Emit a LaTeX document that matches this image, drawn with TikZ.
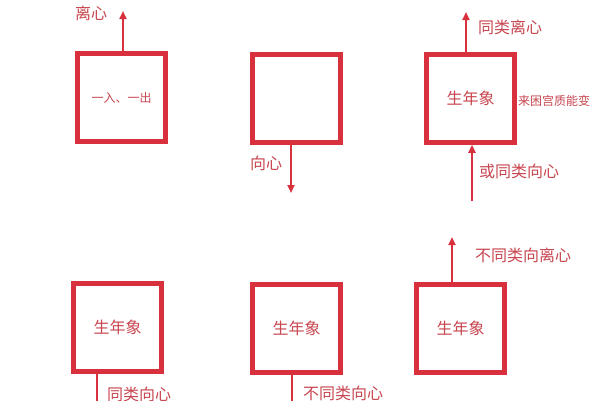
\documentclass[tikz,border=0pt]{standalone}
\usepackage{fontspec}
\setmainfont{Noto Sans CJK SC}
\usetikzlibrary{arrows.meta}
\definecolor{boxred}{HTML}{D8303C}
\definecolor{txtred}{HTML}{C84650}
\begin{document}
\begin{tikzpicture}[x=1pt,y=-1pt,
  sq/.style={draw=boxred,line width=4.5pt,minimum width=88pt,minimum height=88pt,inner sep=0pt,anchor=north west,text=txtred,font=\fontsize{16}{16}\selectfont},
  conn/.style={draw=boxred,line width=2.5pt,-{Triangle[length=8pt,width=7pt]}},
  plain/.style={draw=boxred,line width=2.5pt},
  lbl/.style={text=txtred,font=\fontsize{16}{16}\selectfont,inner sep=0pt,anchor=west},
  small/.style={text=txtred,font=\fontsize{12}{12}\selectfont,inner sep=0pt}]
\useasboundingbox (0,0) rectangle (600,400);
\fill[white] (0,0) rectangle (600,400);
% boxes (outer edges minus half line width)
\node[sq] (b1) at (75.25,51.25) {\fontsize{12}{12}\selectfont 一入、一出};
\node[sq] (b2) at (250.25,52.25) {};
\node[sq] (b3) at (424.25,52.25) {生年象};
\node[sq] (b4) at (71.25,281.25) {生年象};
\node[sq] (b5) at (250.25,282.25) {生年象};
\node[sq] (b6) at (414.25,282.25) {生年象};
% endpoints
\coordinate (e1) at (123,11);
\coordinate (e2) at (291,193);
\coordinate (e3) at (466,12);
\coordinate (s3) at (472,201);
\coordinate (e4) at (97,402);
\coordinate (e5) at (292,402);
\coordinate (e6) at (452,237);
% connectors
\draw[conn] (b1.north -| e1) -- (e1);
\draw[conn] (b2.south -| e2) -- (e2);
\draw[conn] (b3.north -| e3) -- (e3);
\draw[conn] (s3) -- (b3.south -| s3);
\draw[plain] (b4.south -| e4) -- (e4);
\draw[plain] (b5.south -| e5) -- (e5);
\draw[conn] (b6.north -| e6) -- (e6);
% labels
\node[lbl] (l1) at (75,13) {离心};
\node[lbl] (l2) at (250,163) {向心};
\node[lbl] (l3) at (478,27) {同类离心};
\node[small,anchor=west] (l3b) at (518,101) {来困宫质能变};
\node[lbl] (l3c) at (479,171) {或同类向心};
\node[lbl] (l4) at (107,394) {同类向心};
\node[lbl] (l5) at (303,393) {不同类向心};
\node[lbl] (l6) at (475,255) {不同类向离心};
\end{tikzpicture}
\end{document}
